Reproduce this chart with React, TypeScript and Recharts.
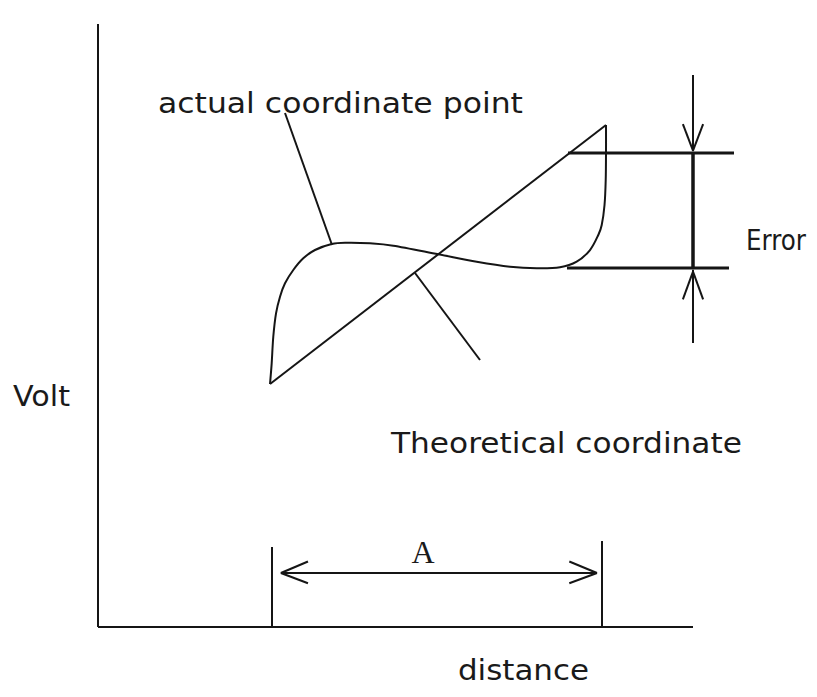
import React from 'react';
import { ComposedChart, Line, XAxis, YAxis, ReferenceLine, ReferenceDot } from 'recharts';

// Data units: distance (x) 0..100, volt (y) 0..100
const theoreticalLine = [
  { d: 28.91, v: 40.3 },
  { d: 85.38, v: 83.25 },
];

const actualCurve = [
  { d: 28.91, v: 40.3 },
  { d: 29.19, v: 43.73 },
  { d: 29.46, v: 48.14 },
  { d: 29.92, v: 52.02 },
  { d: 30.59, v: 54.78 },
  { d: 31.43, v: 57.0 },
  { d: 32.82, v: 59.2 },
  { d: 34.5, v: 61.14 },
  { d: 36.47, v: 62.52 },
  { d: 39.28, v: 63.52 },
  { d: 41.8, v: 63.73 },
  { d: 45.71, v: 63.63 },
  { d: 49.63, v: 63.23 },
  { d: 57.19, v: 61.81 },
  { d: 63.65, v: 60.58 },
  { d: 69.24, v: 59.75 },
  { d: 73.73, v: 59.49 },
  { d: 77.65, v: 59.65 },
  { d: 80.45, v: 60.58 },
  { d: 82.69, v: 62.52 },
  { d: 84.08, v: 65.01 },
  { d: 84.66, v: 66.67 },
  { d: 85.13, v: 69.98 },
  { d: 85.33, v: 74.13 },
  { d: 85.38, v: 79.1 },
  { d: 85.38, v: 83.25 },
];

// leader lines [from, to]
const actualLeader = [{ x: 31.43, y: 85.24 }, { x: 39.33, y: 63.35 }];
const theoreticalLeader = [{ x: 53.28, y: 58.71 }, { x: 64.2, y: 44.28 }];

// error bracket
const errorTop = 78.61;
const errorBottom = 59.54;
const errorLeftTop = 78.99;
const errorLeftBottom = 78.82;
const errorRightTop = 106.89;
const errorRightBottom = 106.05;
const errorX = 100;
const arrowDownStart = 91.54;
const arrowUpStart = 47.1;

// dimension A
const dimLeft = 29.24;
const dimRight = 84.71;
const dimLeftTop = 13.27;
const dimRightTop = 14.26;
const dimY = 8.96;

// text labels
const labels = [
  { text: 'actual coordinate point', x: 10.08, y: 85.24, anchor: 'start', len: 365, serif: false },
  { text: 'Theoretical coordinate', x: 49.24, y: 28.86, anchor: 'start', len: 351, serif: false },
  { text: 'Error', x: 108.9, y: 62.52, anchor: 'start', len: 60, serif: false },
  { text: 'Volt', x: -14.29, y: 36.65, anchor: 'start', len: 57, serif: false },
  { text: 'distance', x: 60.5, y: -8.79, anchor: 'start', len: 131, serif: false },
  { text: 'A', x: 54.62, y: 10.61, anchor: 'middle', len: 0, serif: true },
];

const INK = '#151515';

// Smooth curve through every point (uniform Catmull-Rom as cubic Béziers)
function catmullRom(context: any) {
  let pts: number[][] = [];
  return {
    areaStart() {},
    areaEnd() {},
    lineStart() {
      pts = [];
    },
    point(x: number, y: number) {
      pts.push([+x, +y]);
    },
    lineEnd() {
      if (!pts.length) return;
      context.moveTo(pts[0][0], pts[0][1]);
      for (let i = 0; i < pts.length - 1; i++) {
        const p0 = pts[i - 1] || pts[i];
        const p1 = pts[i];
        const p2 = pts[i + 1];
        const p3 = pts[i + 2] || p2;
        const c1x = p1[0] + (p2[0] - p0[0]) / 6;
        const c1y = p1[1] + (p2[1] - p0[1]) / 6;
        const c2x = p2[0] - (p3[0] - p1[0]) / 6;
        const c2y = p2[1] - (p3[1] - p1[1]) / 6;
        context.bezierCurveTo(c1x, c1y, c2x, c2y, p2[0], p2[1]);
      }
    },
  };
}

const seg = (a: { x: number; y: number }, b: { x: number; y: number }, w = 2, key?: string) => (
  <ReferenceLine
    key={key}
    segment={[a, b]}
    stroke={INK}
    strokeWidth={w}
    ifOverflow="visible"
  />
);

export default function App() {
  const W = 801;
  const H = 681;
  return (
    <div style={{ width: W, height: H, background: '#fff' }}>
      <style>{`.recharts-surface{overflow:visible}`}</style>
      <ComposedChart
        width={W}
        height={H}
        margin={{ top: 16, right: 116, bottom: 32, left: 0 }}
      >
        <XAxis
          type="number"
          dataKey="d"
          domain={[0, 100]}
          allowDataOverflow
          tick={false}
          tickLine={false}
          height={30}
          axisLine={{ stroke: INK, strokeWidth: 2 }}
        />
        <YAxis
          type="number"
          dataKey="v"
          domain={[0, 100]}
          allowDataOverflow
          tick={false}
          tickLine={false}
          width={90}
          axisLine={{ stroke: INK, strokeWidth: 2 }}
        />
        <Line
          data={theoreticalLine}
          dataKey="v"
          type="linear"
          stroke={INK}
          strokeWidth={2}
          dot={false}
          activeDot={false}
          isAnimationActive={false}
        />
        <Line
          data={actualCurve}
          dataKey="v"
          type={catmullRom as any}
          stroke={INK}
          strokeWidth={2}
          dot={false}
          activeDot={false}
          isAnimationActive={false}
        />
        {seg(actualLeader[0], actualLeader[1], 2, 'al')}
        {seg(theoreticalLeader[0], theoreticalLeader[1], 2, 'tl')}
        {/* error bracket */}
        {seg({ x: errorLeftTop, y: errorTop }, { x: errorRightTop, y: errorTop }, 3, 'et')}
        {seg({ x: errorLeftBottom, y: errorBottom }, { x: errorRightBottom, y: errorBottom }, 3, 'eb')}
        {seg({ x: errorX, y: errorTop }, { x: errorX, y: errorBottom }, 3.5, 'ev')}
        {seg({ x: errorX, y: arrowDownStart }, { x: errorX, y: errorTop + 0.3 }, 2, 'ad')}
        {seg({ x: errorX - 1.7, y: errorTop + 4.8 }, { x: errorX, y: errorTop + 0.4 }, 2, 'adw1')}
        {seg({ x: errorX + 1.7, y: errorTop + 4.8 }, { x: errorX, y: errorTop + 0.4 }, 2, 'adw2')}
        {seg({ x: errorX, y: arrowUpStart }, { x: errorX, y: errorBottom - 0.3 }, 2, 'au')}
        {seg({ x: errorX - 1.7, y: errorBottom - 5.2 }, { x: errorX, y: errorBottom - 0.6 }, 2, 'auw1')}
        {seg({ x: errorX + 1.7, y: errorBottom - 5.2 }, { x: errorX, y: errorBottom - 0.6 }, 2, 'auw2')}
        {/* dimension A */}
        {seg({ x: dimLeft, y: dimLeftTop }, { x: dimLeft, y: 0 }, 2, 'dl')}
        {seg({ x: dimRight, y: dimRightTop }, { x: dimRight, y: 0 }, 2, 'dr')}
        {seg({ x: dimLeft + 1.5, y: dimY }, { x: dimRight - 0.85, y: dimY }, 2, 'dh')}
        {seg({ x: dimLeft + 6.05, y: dimY + 1.9 }, { x: dimLeft + 1.5, y: dimY }, 2, 'dlw1')}
        {seg({ x: dimLeft + 6.05, y: dimY - 1.7 }, { x: dimLeft + 1.5, y: dimY }, 2, 'dlw2')}
        {seg({ x: dimRight - 5.5, y: dimY + 1.9 }, { x: dimRight - 0.85, y: dimY }, 2, 'drw1')}
        {seg({ x: dimRight - 5.5, y: dimY - 1.7 }, { x: dimRight - 0.85, y: dimY }, 2, 'drw2')}
        {labels.map((l) => (
          <ReferenceDot
            key={l.text}
            x={l.x}
            y={l.y}
            r={0}
            ifOverflow="visible"
            shape={(p: any) => (
              <text
                x={p.cx}
                y={p.cy}
                textAnchor={l.anchor as any}
                fontFamily={l.serif ? 'Liberation Serif' : 'DejaVu Sans'}
                fontSize={l.serif ? 32 : 28}
                fill="#1a1a1a"
                {...(l.len ? { textLength: l.len, lengthAdjust: 'spacingAndGlyphs' } : {})}
              >
                {l.text}
              </text>
            )}
          />
        ))}
      </ComposedChart>
    </div>
  );
}
